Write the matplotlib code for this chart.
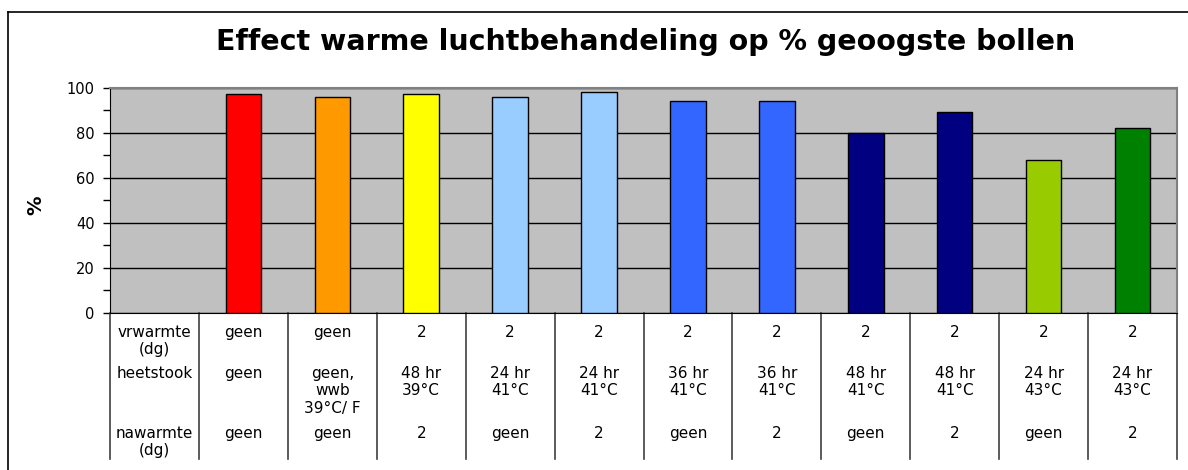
import matplotlib.pyplot as plt
import matplotlib.transforms as transforms
from matplotlib.lines import Line2D

# waarden (% geoogste bollen)
percentages = [97, 96, 97, 96, 98, 94, 94, 80, 89, 68, 82]
bar_colors = ['#FF0000', '#FF9900', '#FFFF00', '#99CCFF', '#99CCFF',
              '#3366FF', '#3366FF', '#000080', '#000080', '#99CC00', '#008000']

row_labels = ['vrwarmte\n(dg)', 'heetstook', 'nawarmte\n(dg)']
vrwarmte = ['geen', 'geen', '2', '2', '2', '2', '2', '2', '2', '2', '2']
heetstook = ['geen', 'geen,\nwwb\n39°C/ F', '48 hr\n39°C', '24 hr\n41°C', '24 hr\n41°C',
             '36 hr\n41°C', '36 hr\n41°C', '48 hr\n41°C', '48 hr\n41°C',
             '24 hr\n43°C', '24 hr\n43°C']
nawarmte = ['geen', 'geen', '2', 'geen', '2', 'geen', '2', 'geen', '2', 'geen', '2']

plt.rcParams['font.family'] = ['DejaVu Sans']

W, H = 1188, 470
fig = plt.figure(figsize=(W / 100, H / 100), dpi=100)

def fx(px):
    return px / W

def fy(py):
    return 1 - py / H

ax = fig.add_axes([fx(110), fy(313), fx(1177) - fx(110), fy(87.5) - fy(313)])
ax.set_facecolor('#C0C0C0')

# eerste kolom is leeg (daar staan de rijlabels van de tabel)
positions = list(range(1, len(percentages) + 1))
ax.bar(positions, percentages, width=0.4, color=bar_colors,
       edgecolor='black', linewidth=1, zorder=3)

ax.set_xlim(-0.5, len(percentages) + 0.5)
ax.set_ylim(0, 100)
ax.set_yticks([0, 20, 40, 60, 80, 100])
ax.set_yticks([10, 30, 50, 70, 90], minor=True)
ax.tick_params(axis='y', which='both', direction='out', length=5, width=1,
               labelsize=10.5, colors='black', pad=6)
ax.set_xticks([])
ax.grid(axis='y', which='major', color='black', linewidth=1, zorder=1)
ax.set_axisbelow(True)

ax.spines['left'].set_color('black')
ax.spines['bottom'].set_color('black')
ax.spines['top'].set_color('#808080')
ax.spines['right'].set_color('#808080')
ax.spines['top'].set_linewidth(1.5)
ax.spines['right'].set_linewidth(1.5)

# datatabel onder de grafiek
trans = transforms.blended_transform_factory(ax.transData, fig.transFigure)
for b in range(len(percentages) + 2):
    ax.add_line(Line2D([b - 0.5, b - 0.5], [fy(313), fy(459)], transform=trans,
                       color='#404040', linewidth=1.2, clip_on=False))

row_tops = [325, 366, 426]
rows = [vrwarmte, heetstook, nawarmte]
for r, label in enumerate(row_labels):
    ax.text(0, fy(row_tops[r]), label, transform=trans, ha='center', va='top',
            fontsize=11, linespacing=1.2)
    for i, val in enumerate(rows[r]):
        ax.text(positions[i], fy(row_tops[r]), val, transform=trans,
                ha='center', va='top', fontsize=11, linespacing=1.2)

fig.text(fx(646), fy(42), 'Effect warme luchtbehandeling op % geoogste bollen',
         ha='center', va='center', fontsize=20.5, fontweight='bold')
fig.text(fx(36), fy(205), '%', rotation=90, ha='center', va='center',
         fontsize=14, fontweight='bold')

# kader rond de grafiek
fig.add_artist(Line2D([fx(8), fx(1188)], [fy(12), fy(12)], color='black', linewidth=1.2))
fig.add_artist(Line2D([fx(8), fx(8)], [fy(12), fy(470)], color='black', linewidth=1.2))

fig.savefig('out.png', dpi=100)
